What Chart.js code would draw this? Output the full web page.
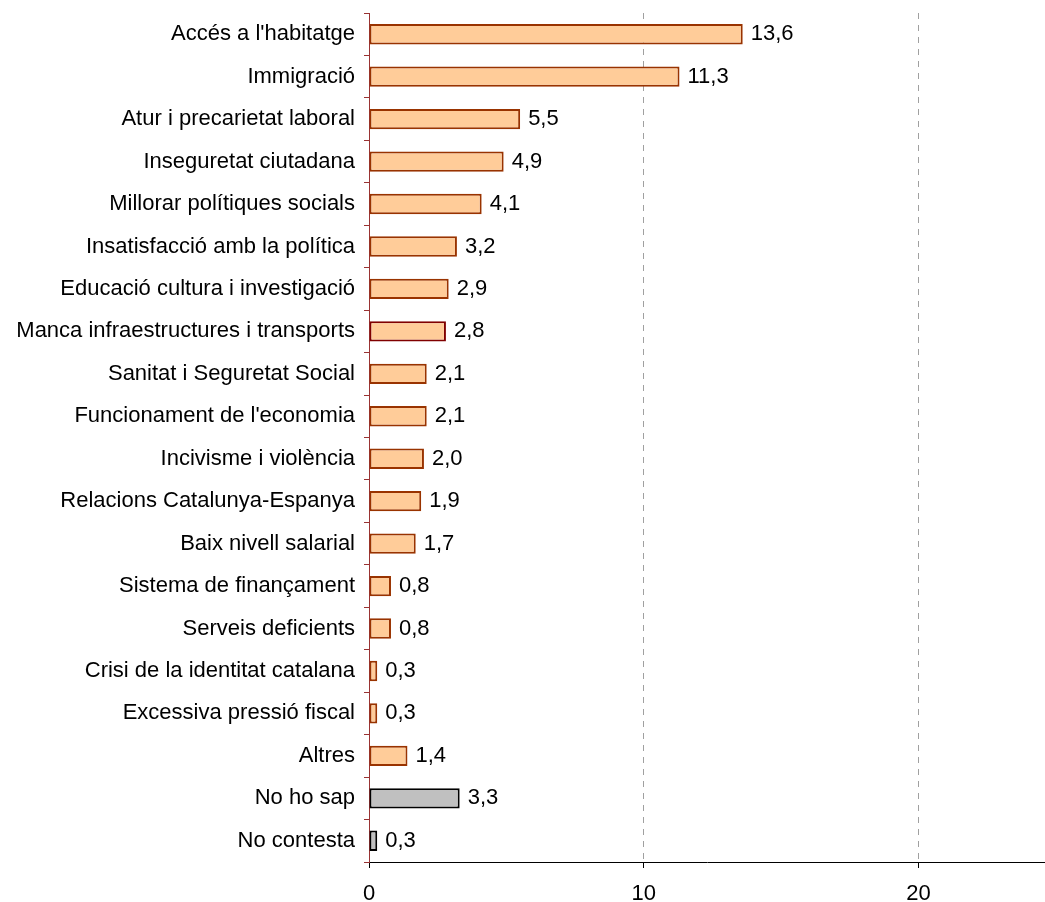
<!DOCTYPE html>
<html>
<head>
<meta charset="utf-8">
<script src="https://cdn.jsdelivr.net/npm/chart.js@4/dist/chart.umd.min.js"></script>
<style>
  html, body { margin: 0; padding: 0; background: #fff; overflow: hidden; }
  #wrap { width: 1045px; height: 902px; }
</style>
</head>
<body>
<div id="wrap"><canvas id="myChart"></canvas></div>
<script>
const categories = [
  "Accés a l'habitatge", "Immigració", "Atur i precarietat laboral", "Inseguretat ciutadana",
  "Millorar polítiques socials", "Insatisfacció amb la política", "Educació cultura i investigació",
  "Manca infraestructures i transports", "Sanitat i Seguretat Social", "Funcionament de l'economia",
  "Incivisme i violència", "Relacions Catalunya-Espanya", "Baix nivell salarial",
  "Sistema de finançament", "Serveis deficients", "Crisi de la identitat catalana",
  "Excessiva pressió fiscal", "Altres", "No ho sap", "No contesta"
];
const values = [13.6, 11.3, 5.5, 4.9, 4.1, 3.2, 2.9, 2.8, 2.1, 2.1, 2.0, 1.9, 1.7, 0.8, 0.8, 0.3, 0.3, 1.4, 3.3, 0.3];
const xTicks = [0, 10, 20];

const FONT = "'Liberation Sans', Arial, sans-serif";
const FONT_SIZE = 22;
const AXIS_RED = "#993333";

const fillColors = categories.map((c) => (c === "No ho sap" || c === "No contesta") ? "#c0c0c0" : "#ffcc99");
const borderColors = categories.map((c) => {
  if (c === "No ho sap" || c === "No contesta") return "#000000";
  if (c === "Manca infraestructures i transports") return "#800000";
  return "#993300";
});

// value labels at the end of each bar
const valueLabels = {
  id: "valueLabels",
  afterDatasetsDraw(chart) {
    const ctx = chart.ctx;
    const meta = chart.getDatasetMeta(0);
    ctx.save();
    ctx.font = FONT_SIZE + "px " + FONT;
    ctx.fillStyle = "#000";
    ctx.textAlign = "left";
    ctx.textBaseline = "middle";
    meta.data.forEach((bar, i) => {
      ctx.fillText(values[i].toFixed(1).replace(".", ","), bar.x + 8, bar.y);
    });
    ctx.restore();
  }
};

const ctx = document.getElementById("myChart").getContext("2d");
const myChart = new Chart(ctx, {
  type: "bar",
  data: {
    labels: categories,
    datasets: [{
      data: values,
      backgroundColor: fillColors,
      borderColor: borderColors,
      borderWidth: 2,
      borderSkipped: false,
      categoryPercentage: 1,
      barPercentage: 0.48
    }]
  },
  options: {
    indexAxis: "y",
    responsive: true,
    maintainAspectRatio: false,
    animation: false,
    layout: { padding: { top: 13, right: 0, bottom: 0, left: 0 } },
    plugins: { legend: { display: false }, tooltip: { enabled: false } },
    scales: {
      x: {
        min: 0,
        max: 24.6,
        afterBuildTicks: (scale) => { scale.ticks = xTicks.map((v) => ({ value: v })); },
        afterFit: (scale) => { scale.height = 40; scale.paddingLeft = 0; scale.paddingRight = 0; },
        grid: {
          color: (c) => (c.tick && c.tick.value === 0) ? "rgba(0,0,0,0)" : "#a0a0a0",
          lineWidth: 1,
          drawTicks: true,
          tickLength: 6,
          tickColor: "#000"
        },
        border: { display: true, color: "#000", width: 1, dash: [6, 6] },
        ticks: {
          color: "#000",
          font: { family: FONT, size: FONT_SIZE },
          padding: 13,
          maxRotation: 0
        }
      },
      y: {
        afterFit: (scale) => { scale.width = 369; scale.paddingTop = 0; scale.paddingBottom = 0; },
        grid: {
          drawOnChartArea: false,
          drawTicks: true,
          tickLength: 5,
          tickColor: AXIS_RED,
          offset: true
        },
        border: { display: true, color: AXIS_RED, width: 1 },
        ticks: {
          color: "#000",
          font: { family: FONT, size: FONT_SIZE },
          padding: 9,
          autoSkip: false
        }
      }
    }
  },
  plugins: [valueLabels]
});
</script>
</body>
</html>
